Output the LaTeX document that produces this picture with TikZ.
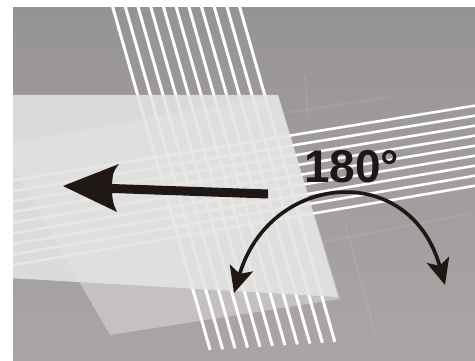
\documentclass[tikz,border=0pt]{standalone}
\usepackage{fontspec}
\setmainfont{Liberation Sans}
\usetikzlibrary{arrows.meta}
\definecolor{bgtop}{RGB}{150,148,147}
\definecolor{bgbot}{RGB}{171,166,165}
\definecolor{sheetA}{RGB}{228,228,226}
\definecolor{sheetB}{RGB}{197,193,192}
\definecolor{ink}{RGB}{30,23,21}
\begin{document}
\begin{tikzpicture}[x=1pt,y=-1pt,
  stripe/.style={white, line width=3pt},
  hstripe/.style={white, line width=2.6pt},
  faint/.style={white, opacity=0.08, line width=2pt},
  turn/.style={draw=ink, line width=3.6pt,
    {Stealth[length=26pt,width=24pt,inset=6pt]}-{Stealth[length=26pt,width=23pt,inset=6pt]}}]
\useasboundingbox (0,0) rectangle (475,361);
\fill[white] (0,0) rectangle (475,361);
\begin{scope}
\clip (13,8) rectangle (475,361);
\shade[top color=bgtop, bottom color=bgbot] (13,8) rectangle (475,361);
% faint background marks
\draw[faint] (285,113) -- (390,97);
\draw[faint] (305,75) -- (308,118);
\draw[faint] (345,223) -- (375,333);
\draw[faint] (318,243) -- (474,213);
% rotated sheet B
\fill[sheetB] (0,145) -- (278,95) -- (340,299) -- (110,335) -- cycle;
% vertical stripe bundle
\foreach \i in {0,...,10}{
  \pgfmathsetmacro{\xt}{113+12.7*\i}
  \pgfmathsetmacro{\yb}{350-0.8*\i}
  \pgfmathsetmacro{\xb}{\xt+0.284*(\yb-8)}
  \draw[stripe] (\xt-2.3,0) -- (\xb,\yb);
}
% horizontal stripe bundle
\foreach \i in {0,...,8}{
  \pgfmathsetmacro{\yl}{182+10.6*\i}
  \pgfmathsetmacro{\yr}{105+10*\i}
  \draw[hstripe] (0,\yl+0.45) -- (480,\yr-0.15);
}
% translucent sheet A
\fill[sheetA, opacity=0.87] (0,95) -- (278,95) -- (338,297) -- (0,277.5) -- cycle;
\end{scope}
% big left arrow
\fill[ink] (63,186) -- (119,164) .. controls (113,172) .. (112,184)
  -- (268,189.5) -- (268,198.5) -- (112,193) .. controls (113,203) .. (117,212) -- cycle;
% label
\node[font=\fontsize{46}{46}\selectfont\bfseries, text=ink, anchor=base west, inner sep=0pt]
  (deg) at (304,183) {180°};
% double curved arrow
\coordinate (l) at (234,293);
\coordinate (r) at (445,285);
\draw[turn] (l) .. controls (270,172) and (410,160) .. (r);
\end{tikzpicture}
\end{document}
